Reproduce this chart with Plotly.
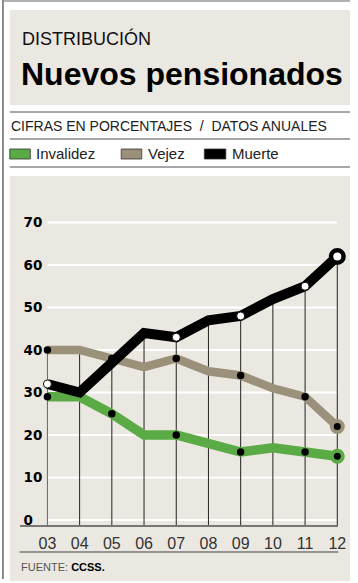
import plotly.graph_objects as go

# ---------------- data ----------------
years = ["03", "04", "05", "06", "07", "08", "09", "10", "11", "12"]
invalidez = [29, 29, 25, 20, 20, 18, 16, 17, 16, 15]
vejez = [40, 40, 38, 36, 38, 35, 34, 31, 29, 22]
muerte = [32, 30, 37, 44, 43, 47, 48, 52, 55, 62]
y_ticks = [0, 10, 20, 30, 40, 50, 60, 70]
series_names = ["Invalidez", "Vejez", "Muerte"]
series_colors = ["#5aab45", "#9b907a", "#000000"]
dot_idx_inv = [0, 2, 4, 6, 8]
dot_idx_vej = [0, 2, 4, 6, 8]
dot_idx_mue = [0, 4, 6, 8]

title_kicker = "DISTRIBUCIÓN"
title_main = "Nuevos pensionados"
subtitle = "CIFRAS EN PORCENTAJES &nbsp;/&nbsp; DATOS ANUALES"
source_text = "FUENTE: <span style='color:#000'><b>CCSS.</b></span>"

# ---------------- geometry helpers ----------------
W, H = 358, 583
BEIGE = "#ebe8e1"
RULE = "#8a8a8a"


def X(px):
    return px / W


def Y(py):
    return 1 - py / H


xs = list(range(len(years)))

# plot area in pixels
dom_left, dom_right = 20, 346
dom_top, dom_bottom = 176, 545
axis_px = 526
x0_px, x9_px = 48.5, 345.0
step = (x9_px - x0_px) / 9
xr = [-(x0_px - dom_left) / step, 9 + (dom_right - x9_px) / step]
zero_px, per10 = 520.0, 42.5
yr = [(zero_px - dom_bottom) / (per10 / 10), (zero_px - dom_top) / (per10 / 10)]
y_axis_val = (zero_px - axis_px) / (per10 / 10)

fig = go.Figure()

# lines
for vals, name, col, w in [
    (invalidez, "Invalidez", series_colors[0], 9.5),
    (vejez, "Vejez", series_colors[1], 8.5),
    (muerte, "Muerte", series_colors[2], 10),
]:
    fig.add_trace(go.Scatter(x=xs, y=vals, mode="lines", name=name,
                             line=dict(color=col, width=w), showlegend=False,
                             hoverinfo="skip"))
    last = len(vals) - 1
    if name == "Muerte":
        idx = dot_idx_mue
        fig.add_trace(go.Scatter(
            x=[xs[i] for i in idx], y=[vals[i] for i in idx], mode="markers",
            marker=dict(color="white", size=8, line=dict(color="#111", width=1)),
            showlegend=False, hoverinfo="skip", cliponaxis=False))
        fig.add_trace(go.Scatter(
            x=[xs[last]], y=[vals[last]], mode="markers",
            marker=dict(color="white", size=12.5, line=dict(color=col, width=4.5)),
            showlegend=False, hoverinfo="skip", cliponaxis=False))
    else:
        idx = dot_idx_inv if name == "Invalidez" else dot_idx_vej
        fig.add_trace(go.Scatter(
            x=[xs[i] for i in idx], y=[vals[i] for i in idx], mode="markers",
            marker=dict(color="#000", size=7.5),
            showlegend=False, hoverinfo="skip", cliponaxis=False))
        fig.add_trace(go.Scatter(
            x=[xs[last]], y=[vals[last]], mode="markers",
            marker=dict(color="#000", size=11, line=dict(color=col, width=4)),
            showlegend=False, hoverinfo="skip", cliponaxis=False))

shapes = []
# page frame
shapes.append(dict(type="line", xref="paper", yref="paper", x0=X(3), x1=X(3),
                   y0=Y(0), y1=Y(579), line=dict(color="#666", width=1.5)))
shapes.append(dict(type="line", xref="paper", yref="paper", x0=X(3), x1=1,
                   y0=Y(1), y1=Y(1), line=dict(color="#999", width=1.5)))
# header box
shapes.append(dict(type="rect", xref="paper", yref="paper", x0=X(10), x1=1,
                   y0=Y(105), y1=Y(10), fillcolor=BEIGE, line=dict(width=0),
                   layer="below"))
# rules
for py in [112, 139, 167]:
    shapes.append(dict(type="line", xref="paper", yref="paper", x0=X(10), x1=1,
                       y0=Y(py), y1=Y(py), line=dict(color=RULE, width=1.5)))
# chart box
shapes.append(dict(type="rect", xref="paper", yref="paper", x0=X(10), x1=1,
                   y0=Y(581), y1=Y(176), fillcolor=BEIGE, line=dict(width=0),
                   layer="below"))
# gridlines
for t in y_ticks:
    shapes.append(dict(type="line", xref="x", yref="y", x0=0, x1=9, y0=t, y1=t,
                       line=dict(color="white", width=2), layer="below"))
# vertical drop lines
for i in xs:
    top = max(invalidez[i], vejez[i], muerte[i])
    shapes.append(dict(type="line", xref="x", yref="y", x0=i, x1=i, y0=y_axis_val, y1=top,
                       line=dict(color="#222" if i else "#666", width=1), layer="below"))
# bottom rule
shapes.append(dict(type="line", xref="paper", yref="paper", x0=X(20), x1=X(346),
                   y0=Y(552), y1=Y(552), line=dict(color="#777", width=1.5)))
# legend swatches
for (xa, xb), col in zip([(10, 31), (124, 145), (209, 231)], series_colors):
    shapes.append(dict(type="rect", xref="paper", yref="paper", x0=X(xa), x1=X(xb),
                       y0=Y(159), y1=Y(149), fillcolor=col,
                       line=dict(color="#333", width=0.8)))

annotations = [
    dict(text=title_kicker, x=X(20), y=Y(39), xref="paper", yref="paper",
         xanchor="left", yanchor="middle", showarrow=False,
         font=dict(family="Liberation Sans", size=18, color="#111")),
    dict(text="<b>" + title_main + "</b>", x=X(19), y=Y(74), xref="paper", yref="paper",
         xanchor="left", yanchor="middle", showarrow=False,
         font=dict(family="Liberation Sans", size=32, color="#000")),
    dict(text=subtitle, x=X(9), y=Y(126), xref="paper", yref="paper",
         xanchor="left", yanchor="middle", showarrow=False,
         font=dict(family="Liberation Sans", size=14, color="#222")),
    dict(text=source_text, x=X(19), y=Y(567), xref="paper", yref="paper",
         xanchor="left", yanchor="middle", showarrow=False,
         font=dict(family="Liberation Sans", size=11, color="#555")),
]
for name, px in zip(series_names, [35, 149, 235]):
    annotations.append(dict(text=name, x=X(px), y=Y(154), xref="paper", yref="paper",
                            xanchor="left", yanchor="middle", showarrow=False,
                            font=dict(family="Liberation Sans", size=15, color="#222")))

fig.update_layout(
    width=W, height=H, autosize=False,
    margin=dict(l=0, r=0, t=0, b=0),
    paper_bgcolor="white", plot_bgcolor="rgba(0,0,0,0)",
    shapes=shapes, annotations=annotations, showlegend=False,
    xaxis=dict(domain=[X(dom_left), X(dom_right)], range=xr,
               anchor="free", position=Y(axis_px),
               tickvals=xs, ticktext=years, showgrid=False, zeroline=False,
               showline=True, linecolor="#777", linewidth=1.5, ticks="",
               tickfont=dict(family="Liberation Sans", size=16, color="#333"),
               ticklabelstandoff=3, fixedrange=True),
    yaxis=dict(domain=[Y(dom_bottom), Y(dom_top)], range=yr,
               tickvals=y_ticks, ticktext=[str(t) for t in y_ticks],
               showgrid=False, zeroline=False, showline=False, ticks="",
               ticklabelposition="inside", ticklabelstandoff=1,
               ticklabeloverflow="allow",
               tickfont=dict(family="DejaVu Sans", size=13.5, color="#000", weight="bold"),
               fixedrange=True),
)

fig.write_html("out.html", config={"displayModeBar": False},
               post_script="document.body.style.margin='0';")
